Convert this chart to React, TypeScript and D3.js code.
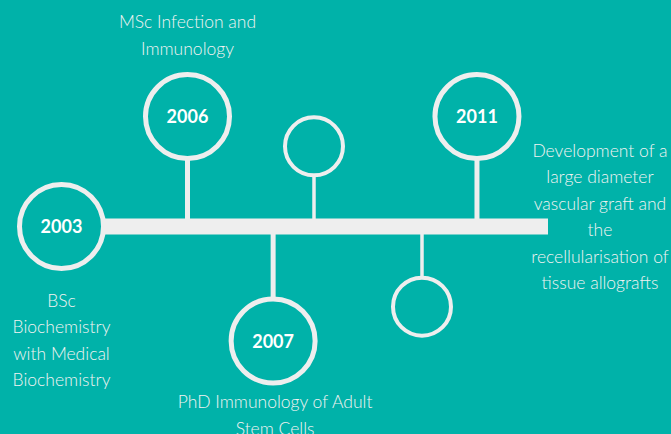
import React from "react";
import * as d3 from "d3";

// milestone data
const years = ["2003", "2006", "", "2007", "", "2011"];
const positions = [0, 25.9, 51.9, 43.5, 74.1, 85.4]; // % along the timeline
const levels = [0, 0.96, 0.7, -1, -0.7, 0.96]; // above (+) / below (-) the bar
const labels: string[][] = [
  ["BSc", "Biochemistry", "with Medical", "Biochemistry"],
  ["MSc Infection and", "Immunology"],
  [],
  ["PhD Immunology of Adult", "Stem Cells"],
  [],
  ["Development of a", "large diameter", "vascular graft and", "the", "recellularisation of", "tissue allografts"],
];

const W = 671;
const H = 434;
const BG = "#00b2a9";
const LINE = "#eeeeee";

const App = () => {
  const x = d3.scaleLinear().domain([0, 100]).range([61.5, 548]);
  const y = d3.scaleLinear().domain([-1, 1]).range([341, 112]);
  const barY = y(0);
  const bigR = 42;
  const smallR = 29;
  const lineH = 26.5;

  // where each label goes relative to its circle [dx, dy of first baseline]
  const labelOffset = [
    [0, 80],
    [0, -88.5],
    [0, 0],
    [2, 67],
    [0, 0],
    [123, 40],
  ];

  return (
    <svg width={W} height={H} style={{ position: "absolute", left: 0, top: 0, background: BG }}>
      <rect width={W} height={H} fill={BG} />
      <line x1={x(0)} x2={x(100)} y1={barY} y2={barY} stroke={LINE} strokeWidth={16} />
      {years.map((yr, i) => {
        const cx = x(positions[i]);
        const cy = y(levels[i]);
        const r = yr ? bigR : smallR;
        const up = levels[i] > 0;
        const stemEnd = levels[i] === 0 ? cy : up ? cy + r : cy - r;
        return (
          <g key={i}>
            {levels[i] !== 0 && (
              <line x1={cx} x2={cx} y1={barY} y2={stemEnd} stroke={LINE} strokeWidth={yr ? 5 : 3.5} />
            )}
            <circle cx={cx} cy={cy} r={r} fill={BG} stroke={LINE} strokeWidth={yr ? 5 : 4} />
            {yr && (
              <text x={cx} y={cy + 6.5} textAnchor="middle" fill="#ffffff"
                style={{ fontFamily: "Lato, sans-serif", fontWeight: 700, fontSize: 18 }}>
                {yr}
              </text>
            )}
            {labels[i].map((ln, j) => (
              <text key={j} x={cx + labelOffset[i][0]} y={cy + labelOffset[i][1] + j * lineH}
                textAnchor="middle" fill="#f2f2f2"
                style={{ fontFamily: "Lato, sans-serif", fontWeight: 300, fontSize: 17.5 }}>
                {ln}
              </text>
            ))}
          </g>
        );
      })}
    </svg>
  );
};

export default App;
